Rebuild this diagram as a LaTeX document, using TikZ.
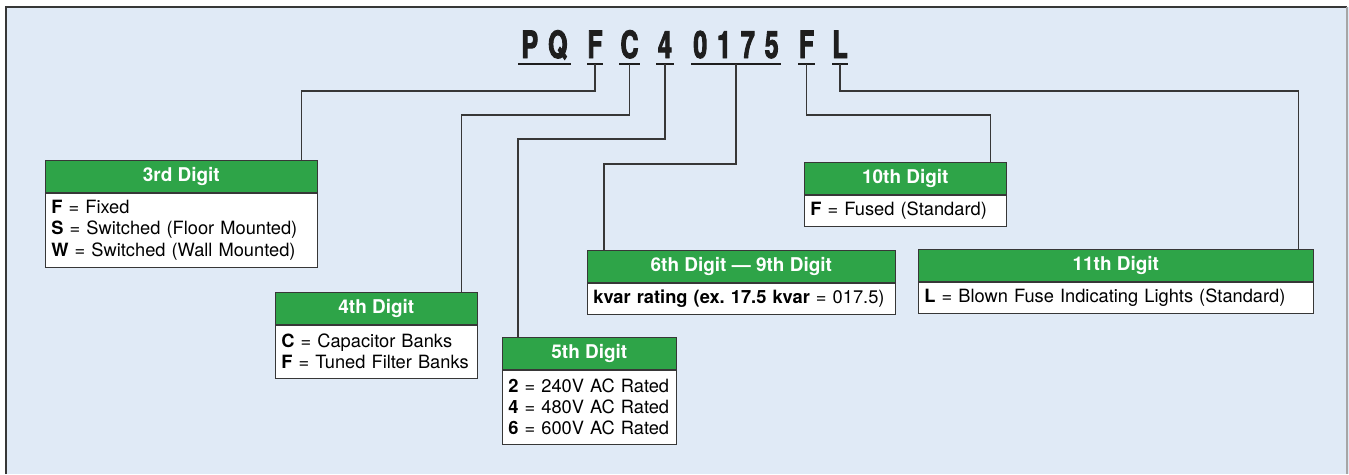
\documentclass[tikz,border=0pt]{standalone}
\usepackage{fontspec}
\setmainfont{TeX Gyre Heros}
\newfontfamily\codefont[FakeStretch=0.66, BoldFeatures={FakeBold=2.5}]{TeX Gyre Heros}
\usepackage{tikz}
\usetikzlibrary{positioning,calc,backgrounds}
\usepackage{xcolor}
\definecolor{panelblue}{RGB}{224,234,246}
\definecolor{digitgreen}{RGB}{46,164,72}
\definecolor{boxline}{RGB}{55,55,55}
\definecolor{codeink}{RGB}{30,30,30}

\begin{document}
\begin{tikzpicture}[
    x=0.02cm, y=-0.02cm,
    head/.style={rectangle, draw=boxline, fill=digitgreen, text=white, anchor=north west, minimum height=0.64cm, inner sep=0pt, font=\bfseries\fontsize{10.8}{12}\selectfont},
    body/.style={rectangle, draw=boxline, fill=white, align=left, inner xsep=0.12cm, inner ysep=0pt, font=\fontsize{10.4}{12.1}\selectfont},
    code/.style={anchor=south, inner xsep=0pt, inner ysep=0.12cm, outer sep=0pt, text depth=0pt, text=codeink, font=\codefont\bfseries\fontsize{21.4}{21.4}\selectfont},
    uline/.style={draw=codeink, line width=1.7pt},
    link/.style={draw=boxline, line width=0.7pt}
]
    \useasboundingbox (0,0) rectangle (1349,474);

    % catalog number
    \node[code, minimum width=1.06cm] (pq) at (544.5,64) {P\hspace{0.2cm}Q};
    \node[code, minimum width=0.32cm] (c3) at (595,64) {F};
    \node[code, minimum width=0.42cm] (c4) at (629.5,64) {C};
    \node[code, minimum width=0.36cm] (c5) at (665,64) {4};
    \node[code, minimum width=1.8cm] (c69) at (736,64) {0\hspace{0.2cm}1\hspace{0.2cm}7\hspace{0.2cm}5};
    \node[code, minimum width=0.34cm] (c10) at (806.5,64) {F};
    \node[code, minimum width=0.32cm] (c11) at (840,64) {L};
    \foreach \c in {pq,c3,c4,c5,c69,c10,c11}
        \draw[uline] (\c.south west) -- (\c.south east);

    % digit boxes
    \node[head, minimum width=5.44cm] (h3) at (45,160) {3rd Digit};
    \node[body, below=0pt of h3, text width=5.2cm, minimum height=1.48cm] (b3)
        {\textbf{F} = Fixed\\\textbf{S} = Switched (Floor Mounted)\\\textbf{W} = Switched (Wall Mounted)};

    \node[head, minimum width=4.04cm] (h4) at (275,292) {4th Digit};
    \node[body, below=0pt of h4, text width=3.8cm, minimum height=1.06cm] (b4)
        {\textbf{C} = Capacitor Banks\\\textbf{F} = Tuned Filter Banks};

    \node[head, minimum width=3.48cm] (h5) at (502,337) {5th Digit};
    \node[body, below=0pt of h5, text width=3.24cm, minimum height=1.48cm] (b5)
        {\textbf{2} = 240V AC Rated\\\textbf{4} = 480V AC Rated\\\textbf{6} = 600V AC Rated};

    \node[head, minimum width=6.16cm] (h69) at (587,250) {6th Digit — 9th Digit};
    \node[body, below=0pt of h69, text width=5.92cm, minimum height=0.62cm] (b69)
        {\textbf{kvar rating (ex.\ 17.5 kvar} = 017.5)};

    \node[head, minimum width=4.04cm] (h10) at (804,162) {10th Digit};
    \node[body, below=0pt of h10, text width=3.8cm, minimum height=0.62cm] (b10)
        {\textbf{F} = Fused (Standard)};

    \node[head, minimum width=7.9cm] (h11) at (918,249) {11th Digit};
    \node[body, below=0pt of h11, text width=7.66cm, minimum height=0.62cm] (b11)
        {\textbf{L} = Blown Fuse Indicating Lights (Standard)};

    % leaders
    \draw[link] (c3.south) -- ++(0,27) -| ([xshift=-0.32cm]h3.north east);
    \draw[link] (c4.south) -- ++(0,51) -| ([xshift=-0.32cm]h4.north east);
    \draw[link] (c5.south) -- ++(0,75) -| ([xshift=0.32cm]h5.north west);
    \draw[link] (c69.south) -- ++(0,100) -| ([xshift=0.34cm]h69.north west);
    \draw[link] (c10.south) -- ++(0,51) -| ([xshift=-0.32cm]h10.north east);
    \draw[link] (c11.south) -- ++(0,27) -| ([xshift=-0.3cm]h11.north east);

    \begin{scope}[on background layer]
        \fill[white] (0,0) rectangle (1349,474);
        \fill[panelblue] (6,7) rectangle (1349,474);
        \draw[boxline, line width=1.2pt] (6,474) -- (6,7) -- (1347,7);
        \draw[gray!70, line width=0.8pt] (1347,7) -- (1347,474);
    \end{scope}
\end{tikzpicture}
\end{document}
